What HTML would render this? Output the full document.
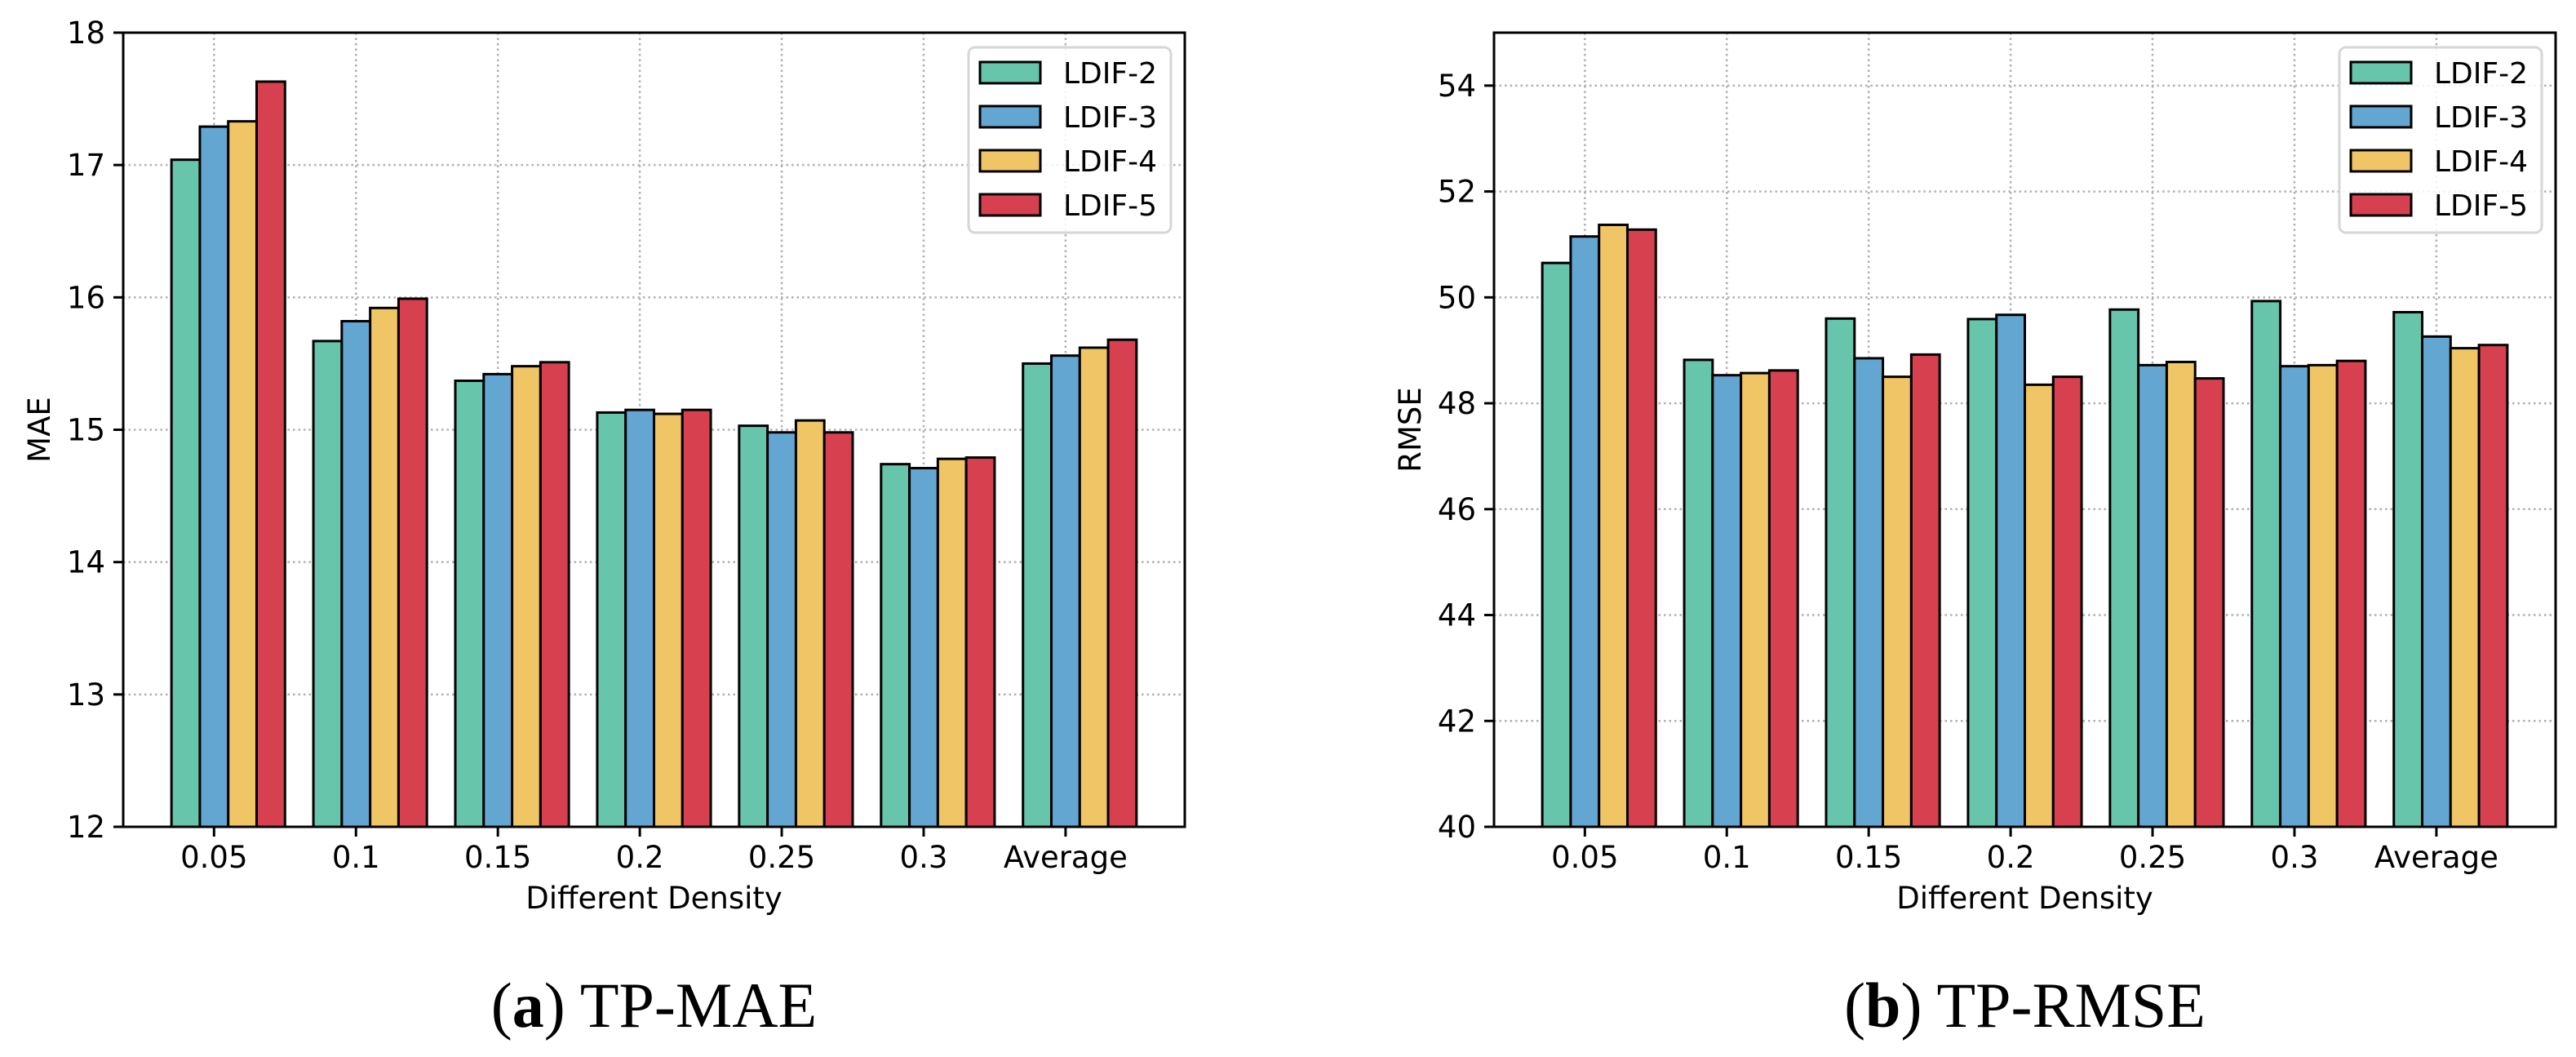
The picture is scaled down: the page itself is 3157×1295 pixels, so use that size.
<!DOCTYPE html>
<html><head><meta charset="utf-8"><style>
html,body{margin:0;padding:0;background:#fff;width:3157px;height:1295px;overflow:hidden}
svg text{font-family:"DejaVu Sans","Liberation Sans",sans-serif}
</style></head><body>
<svg id="fig" width="3157" height="1295" xmlns="http://www.w3.org/2000/svg"></svg>
<script>
const categories = ["0.05","0.1","0.15","0.2","0.25","0.3","Average"];
const seriesNames = ["LDIF-2","LDIF-3","LDIF-4","LDIF-5"];
const maeLDIF2 = [17.04,15.67,15.37,15.13,15.03,14.74,15.50];
const maeLDIF3 = [17.29,15.82,15.42,15.15,14.98,14.71,15.56];
const maeLDIF4 = [17.33,15.92,15.48,15.12,15.07,14.78,15.62];
const maeLDIF5 = [17.63,15.99,15.51,15.15,14.98,14.79,15.68];
const rmseLDIF2 = [50.65,48.82,49.60,49.59,49.77,49.93,49.72];
const rmseLDIF3 = [51.15,48.53,48.85,49.67,48.72,48.70,49.26];
const rmseLDIF4 = [51.37,48.57,48.50,48.35,48.78,48.72,49.04];
const rmseLDIF5 = [51.28,48.62,48.92,48.50,48.47,48.80,49.10];
const maeTicks = [12,13,14,15,16,17,18];
const rmseTicks = [40,42,44,46,48,50,52,54];

const colors = ["#66c5ab","#64a6d2","#efc566","#d6404f"];
const NS = "http://www.w3.org/2000/svg";
const svg = document.getElementById('fig');
function mk(tag, attrs, parent){const e=document.createElementNS(NS,tag);for(const k in attrs)e.setAttribute(k,attrs[k]);(parent||svg).appendChild(e);return e;}

function drawChart(left, yMin, yMax, ticks, series, ylabel, capLetter, capText, key){
  const top=40, bottom=1013, width=1301;
  const xMin=-0.64, xMax=6.84;
  const xs = v => left + (v - xMin)/(xMax-xMin)*width;
  const ys = v => bottom - (v - yMin)/(yMax-yMin)*(bottom-top);
  const g = mk('g',{});
  
  
  // grid
  ticks.forEach(t=>{
    const l=mk('line',{x1:left,x2:left+width,y1:ys(t),y2:ys(t),stroke:'#b0b0b0','stroke-width':2.5,'stroke-dasharray':'2.5,4'},g);
    
    
  });
  categories.forEach((c,i)=>{
    const l=mk('line',{x1:xs(i),x2:xs(i),y1:top,y2:bottom,stroke:'#b0b0b0','stroke-width':2.5,'stroke-dasharray':'2.5,4'},g);
    
    
  });
  // bars
  const w=0.2;
  series.forEach((vals,s)=>{
    vals.forEach((v,i)=>{
      const cx=i+(s-1)*w;
      const x0=xs(cx-w/2), x1=xs(cx+w/2);
      const r=mk('rect',{x:x0,y:ys(v),width:x1-x0,height:bottom-ys(v),fill:colors[s],stroke:'#000','stroke-width':3},g);
      
      
    });
  });
  // axes frame
  const f=mk('rect',{x:left,y:top,width:width,height:bottom-top,fill:'none',stroke:'#000','stroke-width':3},g);
  
  
  // y ticks
  ticks.forEach(t=>{
    mk('line',{x1:left-12,x2:left,y1:ys(t),y2:ys(t),stroke:'#000','stroke-width':3},g);
    const tx=mk('text',{x:left-22,y:ys(t)+13,'text-anchor':'end','font-size':37,fill:'#000'},g);
    tx.textContent=t;
    
    
  });
  categories.forEach((c,i)=>{
    mk('line',{x1:xs(i),x2:xs(i),y1:bottom,y2:bottom+12,stroke:'#000','stroke-width':3},g);
    const tx=mk('text',{x:xs(i),y:1063,'text-anchor':'middle','font-size':37,fill:'#000'},g);
    tx.textContent=c;
    
    
  });
  const xl=mk('text',{x:left+width/2,y:1113,'text-anchor':'middle','font-size':37,fill:'#000'},g);
  xl.textContent='Different Density';
  
  
  const yl=mk('text',{x:0,y:0,'text-anchor':'middle','font-size':37,fill:'#000',transform:`translate(${left-90},${(top+bottom)/2}) rotate(-90)`},g);
  yl.textContent=ylabel;
  
  
  // legend
  const lg=mk('g',{},g);
  
  
  mk('rect',{x:left+1036,y:58,width:248,height:227,rx:8,fill:'#fff','fill-opacity':0.85,stroke:'#d6d6d6','stroke-width':3},lg);
  seriesNames.forEach((n,s)=>{
    const cy=89+s*54;
    const e=mk('g',{},lg);
    
    
    mk('rect',{x:left+1050,y:cy-13,width:74,height:26,fill:colors[s],stroke:'#000','stroke-width':3},e);
    const t=mk('text',{x:left+1152,y:cy+13,'font-size':36,fill:'#000'},e);
    t.textContent=n;
  });
  // caption
  const cap=mk('text',{x:left+width/2,y:1258,'text-anchor':'middle','font-size':78,fill:'#000','font-family':'"Liberation Serif",serif'},g);
  cap.setAttribute('style','font-family:"Liberation Serif",serif');
  
  
  const t1=mk('tspan',{},cap); t1.textContent='(';
  const t2=mk('tspan',{'font-weight':'bold'},cap); t2.textContent=capLetter;
  const t3=mk('tspan',{},cap); t3.textContent=') '+capText;
}
drawChart(151,12,18,maeTicks,[maeLDIF2,maeLDIF3,maeLDIF4,maeLDIF5],'MAE','a','TP-MAE','mae');
drawChart(1831,40,55,rmseTicks,[rmseLDIF2,rmseLDIF3,rmseLDIF4,rmseLDIF5],'RMSE','b','TP-RMSE','rmse');
</script>
</body></html>
